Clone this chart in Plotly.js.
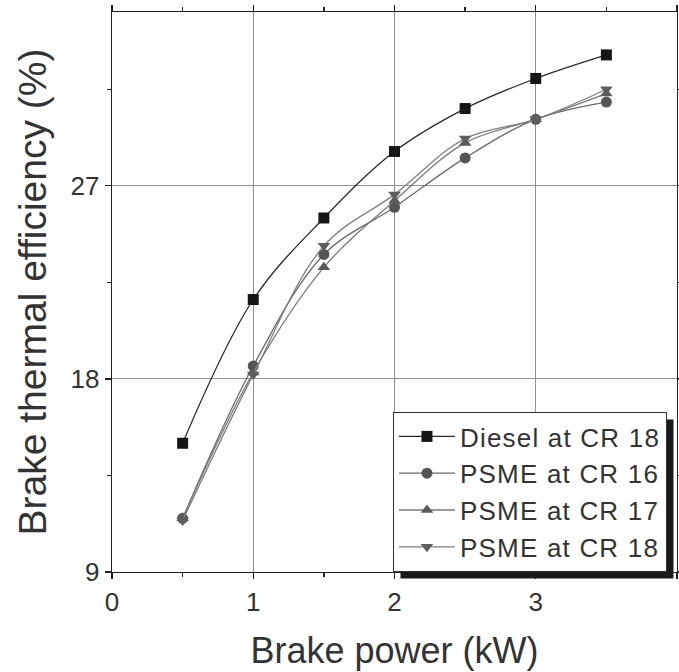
<!DOCTYPE html>
<html>
<head>
<meta charset="utf-8">
<script src="https://cdn.plot.ly/plotly-3.0.1.min.js"></script>
<style>html,body{margin:0;padding:0;background:#fff;}#chart{width:679px;height:672px;}
.legendtext{letter-spacing:1.2px;}</style>
</head>
<body>
<div id="chart"></div>
<script>
const brakePower = [0.5, 1, 1.5, 2, 2.5, 3, 3.5];
const dieselCR18 = [15.0, 21.7, 25.5, 28.6, 30.6, 32.0, 33.1];
const psmeCR16 = [11.5, 18.6, 23.8, 26.0, 28.3, 30.1, 30.9];
const psmeCR17 = [11.5, 18.3, 23.2, 26.3, 29.0, 30.1, 31.3];
const psmeCR18 = [11.4, 18.2, 24.2, 26.6, 29.2, 30.1, 31.5];
const seriesNames = ["Diesel at CR 18", "PSME at CR 16", "PSME at CR 17", "PSME at CR 18"];
const xTicks = [0, 1, 2, 3, 4];
const yTicks = [9, 18, 27];

const FONT = "Liberation Sans, Arial, sans-serif";
function tr(y, name, sym, mcol, lcol) {
  return {
    x: brakePower, y: y, name: name, type: "scatter", mode: "lines+markers",
    line: {color: lcol, width: 1.3, shape: "spline", smoothing: 1},
    marker: {symbol: sym, size: 11, color: mcol}
  };
}
const data = [
  tr(dieselCR18, seriesNames[0], "square", "#161616", "#2a2a2a"),
  tr(psmeCR16, seriesNames[1], "circle", "#555555", "#6a6a6a"),
  tr(psmeCR17, seriesNames[2], "triangle-up", "#5a5a5a", "#7a7a7a"),
  tr(psmeCR18, seriesNames[3], "triangle-down", "#5e5e5e", "#808080")
];
const axisCommon = {
  showline: true, linecolor: "#222", linewidth: 1.3, mirror: "ticks",
  ticks: "outside", ticklen: 6, tickcolor: "#222", tickwidth: 1.3,
  showgrid: true, gridcolor: "#8f8f8f", gridwidth: 1.2,
  zeroline: false, tickfont: {family: FONT, size: 26, color: "#333"},
  minor: {ticks: "outside", ticklen: 4, tickcolor: "#222", showgrid: false}
};
const layout = {
  width: 679, height: 672,
  margin: {l: 112, r: 2, t: 12, b: 100},
  paper_bgcolor: "#fff", plot_bgcolor: "#fff",
  font: {family: FONT, color: "#333"},
  showlegend: true,
  xaxis: Object.assign({}, axisCommon, {
    range: [0, 4], tickvals: xTicks, ticktext: xTicks.map(String),
    minor: Object.assign({}, axisCommon.minor, {dtick: 0.5, tick0: 0}),
    title: {text: "Brake power (kW)", font: {family: FONT, size: 36, color: "#333"}, standoff: 22}
  }),
  yaxis: Object.assign({}, axisCommon, {
    range: [9, 35.1], tickvals: yTicks, ticktext: yTicks.map(String),
    minor: Object.assign({}, axisCommon.minor, {dtick: 4.5, tick0: 9}),
    title: {text: "Brake thermal efficiency (%)", font: {family: FONT, size: 39, color: "#333"}, standoff: 12}
  }),
  legend: {
    x: 0.4973, y: 0.2857, xanchor: "left", yanchor: "top",
    bgcolor: "#fff", bordercolor: "#333", borderwidth: 1,
    font: {family: FONT, size: 26, color: "#333"},
    tracegroupgap: 0, itemwidth: 56
  },
  shapes: [{
    type: "rect", xref: "paper", yref: "paper",
    x0: 0.5097, x1: 0.9965, y0: 0.009, y1: 0.2625,
    fillcolor: "#1a1a1a", line: {width: 0}, layer: "above"
  }]
};
const gd = document.getElementById("chart");
Plotly.newPlot(gd, data, layout, {displayModeBar: false, staticPlot: true}).then(function () {
  const bg = gd.querySelector(".legend .bg");
  if (!bg) return;
  const r = bg.getBoundingClientRect();
  const g = gd.getBoundingClientRect();
  const s = gd._fullLayout._size;
  const off = 7;
  const x0 = (r.left - g.left + off - s.l) / s.w;
  const x1 = (r.right - g.left + off - s.l) / s.w;
  const y1 = 1 - (r.top - g.top + off - s.t) / s.h;
  const y0 = 1 - (r.bottom - g.top + off - s.t) / s.h;
  return Plotly.relayout(gd, {"shapes[0].x0": x0, "shapes[0].x1": x1, "shapes[0].y0": y0, "shapes[0].y1": y1});
});
</script>
</body>
</html>
